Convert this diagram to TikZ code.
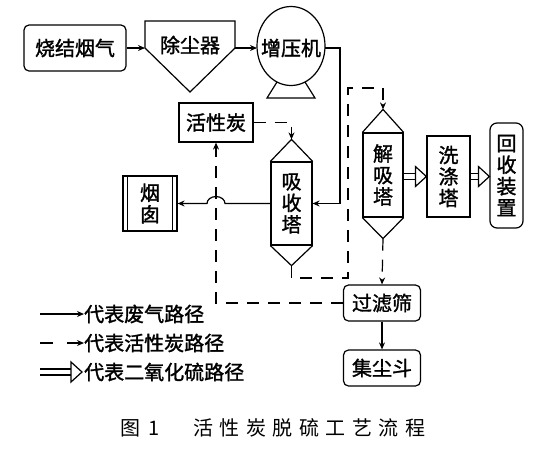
\documentclass[tikz,border=0pt]{standalone}
\usepackage{fontspec}
\newfontfamily\cjk{Noto Sans CJK SC}[FakeBold=1.5]
\newfontfamily\cjkcap{Noto Sans CJK SC}
\usetikzlibrary{arrows.meta,calc}
\newcommand\sotwoarrow[2]{%
  \draw[ln] ($(#1)+(0,-3)$) -- ($(#2)+(-11,-3)$);
  \draw[ln] ($(#1)+(0,3)$) -- ($(#2)+(-11,3)$);
  \draw[ln, fill=white, line join=miter] ($(#2)+(-11,-10)$) -- (#2) -- ($(#2)+(-11,10)$) -- cycle;}
\begin{document}
\begin{tikzpicture}[x=1pt,y=-1pt,
  every node/.style={font=\cjk\fontsize{20}{21.5}\selectfont, inner sep=0pt},
  ln/.style={line width=1.2pt},
  box/.style={draw, line width=1.2pt, inner sep=0pt, align=center},
  rbox/.style={box, rounded corners=5pt},
  arr/.style={ln, -{Stealth[length=7pt,width=6pt]}},
  cpath/.style={ln, dash pattern=on 12pt off 9pt},
  carr/.style={cpath, -{Stealth[length=7pt,width=6pt]}},
]
\useasboundingbox (0,0) rectangle (546,456);

% sinter flue gas
\node[rbox, minimum width=102pt, minimum height=46pt] (sj) at (75,48) {烧结烟气};

% dust remover
\draw[ln, line join=miter] (145,21) -- (235,21) -- (235,48) -- (190,92) -- (145,48) -- cycle;
\node (cc) at (190,45) {除尘器};
\coordinate (ccW) at (145,48);
\coordinate (ccE) at (235,48);

% booster fan
\draw[ln, fill=white] (277,82) -- (267,98) -- (315,98) -- (305,82);
\draw[ln, fill=white] (291,46) ellipse [x radius=34pt, y radius=39.5pt];
\node (zy) at (291,48) {增压机};
\coordinate (zyW) at (257,48);
\coordinate (zyE) at (325,48);

% activated carbon
\node[box, minimum width=74pt, minimum height=39pt] (hd) at (216,122.5) {活性炭};

% absorber
\node[box, minimum width=41pt, minimum height=83pt] (xs) at (291.5,203.5) {吸\\收\\塔};
\coordinate (xsT) at ($(xs.north)+(0,-22)$);
\coordinate (xsB) at ($(xs.south)+(0,20)$);
\draw[ln, line join=miter] (xs.north west) -- (xsT) -- (xs.north east);
\draw[ln, line join=miter] (xs.south west) -- (xsB) -- (xs.south east);

% desorber
\node[box, minimum width=40pt, minimum height=84pt] (jx) at (383,175) {解\\吸\\塔};
\coordinate (jxT) at ($(jx.north)+(0,-23)$);
\coordinate (jxB) at ($(jx.south)+(0,21)$);
\draw[ln, line join=miter] (jx.north west) -- (jxT) -- (jx.north east);
\draw[ln, line join=miter] (jx.south west) -- (jxB) -- (jx.south east);

% washer and recovery
\node[box, minimum width=43pt, minimum height=81pt] (xd) at (448.5,176.5) {洗\\涤\\塔};
\node[rbox, rounded corners=7pt, minimum width=33pt, minimum height=105pt] (hs) at (506.5,175.5) {回\\收\\装\\置};

% chimney
\node[box, minimum width=54pt, minimum height=55pt] (yc) at (150,203.5) {烟\\囱};
\draw[ln] ($(yc.north west)+(5,0)$) -- ($(yc.south west)+(5,0)$);
\draw[ln] ($(yc.north east)+(-5,0)$) -- ($(yc.south east)+(-5,0)$);

% filter and dust hopper
\node[rbox, minimum width=77pt, minimum height=36pt] (gl) at (382,303) {过滤筛};
\node[rbox, minimum width=77pt, minimum height=36pt] (jc) at (382,368) {集尘斗};

% flue gas path
\draw[arr] (sj.east) -- (ccW);
\draw[arr] (ccE) -- (zyW);
\draw[arr] (zyE) -- (340,48) -- (340,203.5) -- (xs.east);
\draw[arr] (xs.west) -- (225,203.5) arc[start angle=0, end angle=180, x radius=9pt, y radius=7pt] -- (yc.east);
\draw[arr] (gl.south) -- (jc.north);

% activated carbon path
\draw[carr] (hd.east) -| (xsT);
\draw[carr] (xsB) -- (291.5,278) -- (348,278) -- (348,88) -- (383,88) -- (jxT);
\draw[carr] (jxB) -- (gl.north);
\draw[carr] (gl.west) -| (hd.south);

% SO2 path
\sotwoarrow{jx.east |- xd.west}{xd.west}
\sotwoarrow{xd.east}{hs.west |- xd.east}

% legend
\node[anchor=west] (t1) at (84,314) {代表废气路径};
\node[anchor=west] (t2) at (84,343) {代表活性炭路径};
\node[anchor=west] (t3) at (84,372) {代表二氧化硫路径};
\coordinate (L1) at (40,314);
\coordinate (L2) at (40,343);
\coordinate (L3) at (40,372);
\coordinate (E3) at (82,372);
\draw[arr] (L1) -- (t1.west);
\draw[carr, dash pattern=on 13pt off 14pt] (L2) -- (t2.west);
\sotwoarrow{L3}{E3}

% caption
\node[anchor=west, font=\cjkcap\fontsize{20}{22}\selectfont] (c1) at (120,428) {图\hspace{8pt}1};
\node[anchor=west, font=\cjkcap\fontsize{20}{22}\selectfont] (c2) at (193,428) {活\hspace{6.5pt}性\hspace{6.5pt}炭\hspace{6.5pt}脱\hspace{6.5pt}硫\hspace{6.5pt}工\hspace{6.5pt}艺\hspace{6.5pt}流\hspace{6.5pt}程};
\end{tikzpicture}
\end{document}
